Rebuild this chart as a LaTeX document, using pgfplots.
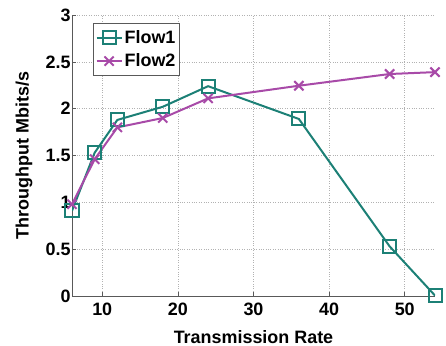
\documentclass[border=0pt]{standalone}
\usepackage{fontspec}
\setmainfont{Liberation Sans}
\usepackage{pgfplots}
\pgfplotsset{compat=1.18}
\definecolor{flowone}{RGB}{28,128,118}
\definecolor{flowtwo}{RGB}{168,74,168}
\begin{document}
\begin{tikzpicture}
\begin{axis}[
  scale only axis,
  width=363bp, height=281bp,
  xmin=6, xmax=54, ymin=0, ymax=3,
  xtick={10,20,30,40,50},
  xticklabels={\textbf{10},\textbf{20},\textbf{30},\textbf{40},\textbf{50}},
  ytick={0,0.5,1,1.5,2,2.5,3},
  yticklabels={\textbf{0},\textbf{0.5},\textbf{1},\textbf{1.5},\textbf{2},\textbf{2.5},\textbf{3}},
  axis x line*=bottom, axis y line*=left,
  axis line style={gray!70!black, line width=0.8bp},
  tick style={gray!70!black, line width=0.6bp},
  tick align=inside,
  major tick length=4bp,
  grid=major,
  grid style={dotted, gray!60, line width=0.6bp},
  tick label style={font=\bfseries\fontsize{18}{20}\selectfont},
  xticklabel style={yshift=-3bp},
  yticklabel style={xshift=2bp},
  xlabel={Transmission Rate},
  ylabel={Throughput Mbits/s},
  label style={font=\bfseries\fontsize{18}{21}\selectfont},
  xlabel style={at={(axis description cs:0.5,-0.145)}, anchor=center},
  ylabel style={at={(axis description cs:-0.132,0.5)}, anchor=center},
  legend style={at={(0.059,0.971)}, anchor=north west, draw=gray!70!black,
    font=\bfseries\fontsize{18}{21}\selectfont, inner xsep=2bp, inner ysep=5bp,
    row sep=5bp, /tikz/every odd column/.append style={column sep=0bp}},
  legend cell align=left,
  legend image code/.code={%
    \draw[mark repeat=2,mark phase=2,#1] plot coordinates {(0bp,0bp) (12.5bp,0bp) (25bp,0bp)};},
]
\addplot[color=flowone, line width=2bp, mark=square, mark size=6.5bp, mark options={solid, line width=2bp}]
  coordinates {(6,0.91) (9,1.53) (12,1.88) (18,2.02) (24,2.24) (36,1.89) (48,0.53) (54,0.005)};
\addlegendentry{Flow1}
\addplot[color=flowtwo, line width=2bp, mark=x, mark size=6.5bp, mark options={solid, line width=2bp}]
  coordinates {(6,0.98) (9,1.46) (12,1.80) (18,1.90) (24,2.11) (36,2.245) (48,2.37) (54,2.39)};
\addlegendentry{Flow2}
\end{axis}
\pgfresetboundingbox
\path (current axis.south west) ++(-72bp,-50bp) rectangle ++(446bp,346bp);
\end{tikzpicture}
\end{document}
